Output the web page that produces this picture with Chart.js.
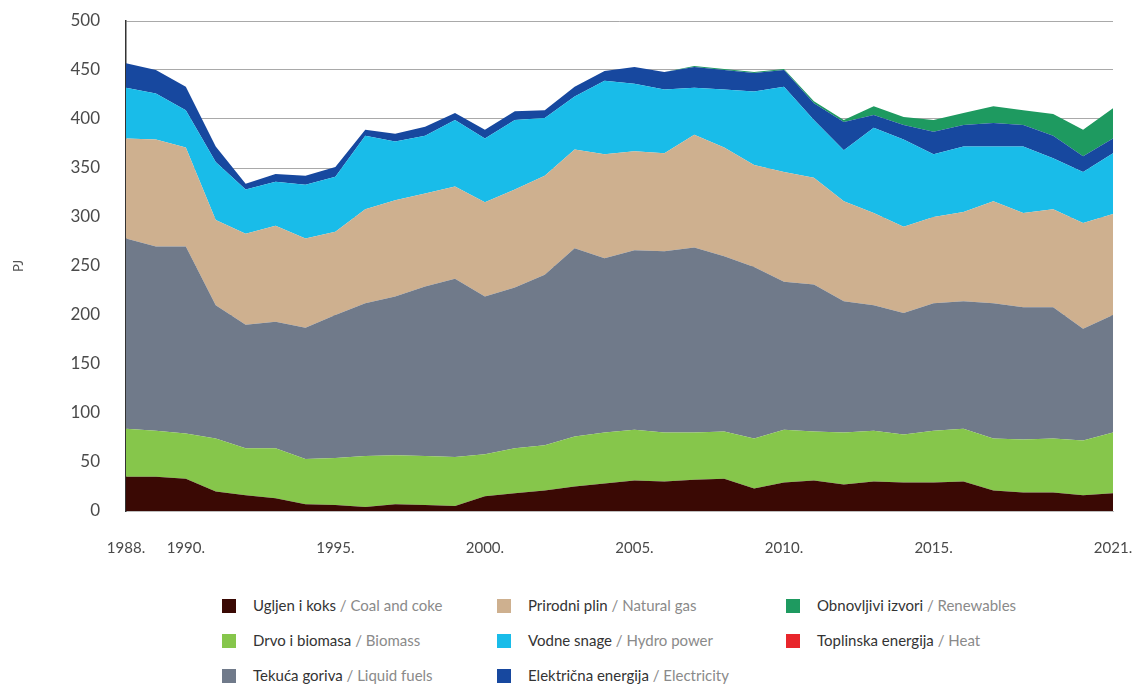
<!DOCTYPE html>
<html>
<head>
<meta charset="utf-8">
<script src="https://cdn.jsdelivr.net/npm/chart.js@4.4.1/dist/chart.umd.min.js"></script>
<style>
  html, body { margin: 0; padding: 0; background: #ffffff; }
  #wrap { position: relative; width: 1136px; height: 686px; overflow: hidden; }
  #c { position: absolute; left: 0; top: 0; }
  .lg { position: absolute; font-family: "Lato", "Open Sans", sans-serif; font-size: 15px; white-space: nowrap; }
  .lg .sw { position: absolute; left: 0; top: 2px; width: 14px; height: 14px; }
  .lg .tx { position: absolute; left: 31px; top: -1px; line-height: 18px; color: #333; }
  .lg .en { color: #8a8a8a; }
</style>
</head>
<body>
<div id="wrap">
  <canvas id="c" width="1136" height="580"></canvas>
  <div id="legend"></div>
</div>
<script>
// ---- Data (PJ) ----
const years = [1988,1989,1990,1991,1992,1993,1994,1995,1996,1997,1998,1999,2000,2001,2002,2003,2004,2005,2006,2007,2008,2009,2010,2011,2012,2013,2014,2015,2016,2017,2018,2019,2020,2021];
const tickYears = [1988,1990,1995,2000,2005,2010,2015,2021];
const yTicks = [0,50,100,150,200,250,300,350,400,450,500];

const coal        = [35,35,33,20,16,13,7,6,4,7,6,5,15,18,21,25,28,31,30,32,33,23,29,31,27,30,29,29,30,21,19,19,16,18];
const biomass     = [49,47,46,54,48,51,46,48,52,50,50,50,43,46,46,51,52,52,50,48,48,51,54,50,53,52,49,53,54,53,54,55,56,62];
const liquidFuels = [194,188,191,136,126,129,134,146,156,162,173,182,161,164,174,192,178,183,185,189,179,175,151,150,134,128,124,130,130,138,135,134,114,120];
const naturalGas  = [102,109,101,87,93,98,91,85,96,98,95,94,96,100,101,101,106,101,100,115,111,104,112,109,102,94,88,88,91,104,96,100,108,103];
const hydroPower  = [52,47,38,59,45,45,55,56,75,60,59,68,65,71,59,54,75,69,65,48,59,75,87,59,52,87,89,64,67,56,68,52,52,62];
const electricity = [25,24,24,16,6,8,9,10,6,8,9,7,9,9,8,10,10,17,18,21,20,19,17,17,29,13,15,23,22,24,22,23,16,15];
const renewables  = [0,0,0,0,0,0,0,0,0,0,0,0,0,0,0,0,0,0,0,1,1,1,1,2,2,9,8,12,12,17,15,22,27,31];
const heat        = [0,0,0,0,0,0,0,0,0,0,0,0,0,0,0,0,0,0,0,0,0,0,0,0,0,0,0,0,0,0,0,0,0,0];

const namesHr = ["Ugljen i koks","Drvo i biomasa","Tekuća goriva","Prirodni plin","Vodne snage","Električna energija","Obnovljivi izvori","Toplinska energija"];
const namesEn = ["Coal and coke","Biomass","Liquid fuels","Natural gas","Hydro power","Electricity","Renewables","Heat"];
const seriesData = [coal, biomass, liquidFuels, naturalGas, hydroPower, electricity, renewables, heat];

// ---- Styles ----
const colors = ["#3a0904","#86c64b","#707a8a","#ceb08f","#19bce9","#17489f","#1e9a60","#e8262b"];

const datasets = seriesData.map((d, i) => ({
  label: namesHr[i] + " / " + namesEn[i],
  data: d,
  backgroundColor: colors[i],
  borderColor: colors[i],
  borderWidth: 0,
  pointRadius: 0,
  tension: 0,
  fill: i === 0 ? 'origin' : '-1'
}));

const FONT = 'Lato, "Open Sans", sans-serif';

new Chart(document.getElementById('c'), {
  type: 'line',
  data: { labels: years.map(String), datasets },
  options: {
    responsive: false,
    animation: false,
    devicePixelRatio: 1,
    layout: { padding: { top: 21, right: 23, left: 0, bottom: 0 } },
    plugins: { legend: { display: false }, tooltip: { enabled: false } },
    elements: { line: { borderWidth: 0 } },
    scales: {
      x: {
        offset: false,
        grid: { display: false, drawTicks: false },
        border: { display: true, color: '#bdbdbd', width: 1 },
        ticks: {
          autoSkip: false, maxRotation: 0, minRotation: 0,
          padding: 28, color: '#4a4a4a',
          font: { family: FONT, size: 15 },
          callback: (v, i) => tickYears.includes(years[i]) ? years[i] + '.' : ''
        },
        afterFit: s => { s.height = 69; s.paddingLeft = 0; s.paddingRight = 0; }
      },
      y: {
        stacked: true, min: 0, max: 500,
        afterBuildTicks: s => { s.ticks = yTicks.map(v => ({ value: v })); },
        grid: { color: '#a9a9a9', lineWidth: 1, drawTicks: false },
        border: { display: true, color: '#333', width: 1.5 },
        ticks: { padding: 26, color: '#4a4a4a', font: { family: FONT, size: 17 } },
        title: { display: true, text: 'PJ', color: '#555', font: { family: FONT, size: 13 }, padding: { top: 11, bottom: 0 } },
        afterFit: s => { s.width = 126; s.paddingTop = 0; s.paddingBottom = 0; }
      }
    }
  }
});

// ---- Legend (HTML, column-major 3 rows) ----
const lg = document.getElementById('legend');
const colX = [222, 497, 786];
const rowY = [597, 632, 667];
namesHr.forEach((n, i) => {
  const d = document.createElement('div');
  d.className = 'lg';
  d.style.left = colX[Math.floor(i / 3)] + 'px';
  d.style.top = rowY[i % 3] + 'px';
  d.innerHTML = '<span class="sw" style="background:' + colors[i] + '"></span>' +
    '<span class="tx">' + n + ' <span class="en">/ ' + namesEn[i] + '</span></span>';
  lg.appendChild(d);
});
</script>
</body>
</html>
